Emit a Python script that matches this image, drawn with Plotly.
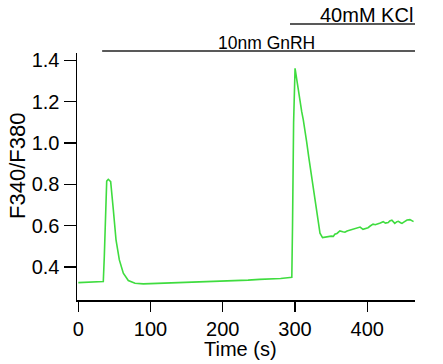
import plotly.graph_objects as go

time_s = [0, 8, 16, 24, 32, 34.6, 36, 38, 39.3, 41.5, 44.8, 48.5, 52.2, 56.8, 62.3, 69.2, 78.5,
          90, 100, 113, 130, 145, 159, 175, 190, 205, 220, 235, 251, 265, 280, 293, 295.5,
          296.5, 298, 300, 302, 304.6, 307, 309.2, 311.4, 313, 316, 319, 323, 326, 330, 334.5,
          338, 342, 346, 350, 353, 355, 358, 362, 366, 369, 372, 376, 380, 385, 390, 394,
          397, 401, 404, 408, 411, 415, 418, 422, 425, 429, 431, 434, 436, 438, 441, 443,
          446, 448, 451, 455, 459, 462, 464]
ratio = [0.324, 0.325, 0.326, 0.325, 0.327, 0.329, 0.45, 0.70, 0.815, 0.824, 0.813, 0.676, 0.531,
         0.434, 0.370, 0.334, 0.321,
         0.318, 0.319, 0.321, 0.322, 0.324, 0.326, 0.327, 0.329, 0.332, 0.334, 0.336, 0.340,
         0.341, 0.344, 0.349, 0.350,
         0.60, 1.10, 1.361, 1.31, 1.265, 1.20, 1.151, 1.111, 1.08, 1.006, 0.93, 0.829, 0.76,
         0.668, 0.563,
         0.542, 0.545, 0.547, 0.549, 0.548, 0.558, 0.562, 0.574, 0.570, 0.568, 0.574, 0.579,
         0.584, 0.590, 0.593, 0.582,
         0.586, 0.590, 0.598, 0.607, 0.604, 0.611, 0.613, 0.619, 0.612, 0.615, 0.622, 0.626,
         0.618, 0.611, 0.619, 0.621,
         0.614, 0.611, 0.618, 0.627, 0.629, 0.624, 0.619]

gnrh_label = "10nm GnRH"
gnrh_span = [33, 466]
kcl_label = "40mM KCl"
kcl_span = [293, 466]

x_ticks = [0, 100, 200, 300, 400]
y_ticks = [0.4, 0.6, 0.8, 1.0, 1.2, 1.4]
y_ticktext = ["0.4", "0.6", "0.8", "1.0", "1.2", "1.4"]

font_family = "Liberation Sans, Arial, sans-serif"

W, H = 443, 364
ML, MR, MT, MB = 77, 28, 53, 64
PW, PH = W - ML - MR, H - MT - MB


def px_to_paper_x(px):
    return (px - ML) / PW


def px_to_paper_y(py):
    return (H - MB - py) / PH


fig = go.Figure()
fig.add_trace(go.Scatter(x=time_s, y=ratio, mode="lines",
                         line=dict(color="#3fdc3f", width=1.6), showlegend=False))

# stimulus bars (above plot)
fig.add_shape(type="line", xref="x", yref="paper", x0=gnrh_span[0], x1=gnrh_span[1],
              y0=px_to_paper_y(51), y1=px_to_paper_y(51), line=dict(color="#222222", width=1.5))
fig.add_shape(type="line", xref="x", yref="paper", x0=kcl_span[0], x1=kcl_span[1],
              y0=px_to_paper_y(24), y1=px_to_paper_y(24), line=dict(color="#222222", width=1.5))
fig.add_annotation(x=px_to_paper_x(266), y=px_to_paper_y(43), xref="paper", yref="paper",
                   text=gnrh_label, showarrow=False, xanchor="center", yanchor="middle",
                   font=dict(size=17.5, color="black", family=font_family))
fig.add_annotation(x=px_to_paper_x(366), y=px_to_paper_y(14.5), xref="paper", yref="paper",
                   text=kcl_label, showarrow=False, xanchor="center", yanchor="middle",
                   borderpad=0, font=dict(size=20, color="black", family=font_family))
# axis titles
fig.add_annotation(x=px_to_paper_x(240), y=px_to_paper_y(349), xref="paper", yref="paper",
                   text="Time (s)", showarrow=False, xanchor="center", yanchor="middle",
                   font=dict(size=20, color="black", family=font_family))
fig.add_annotation(x=px_to_paper_x(17), y=px_to_paper_y(166), xref="paper", yref="paper",
                   text="F340/F380", showarrow=False, xanchor="center", yanchor="middle",
                   borderpad=0, textangle=-90, font=dict(size=22, color="black", family=font_family))

fig.update_layout(
    width=W, height=H,
    margin=dict(l=ML, r=MR, t=MT, b=MB, autoexpand=False),
    paper_bgcolor="white", plot_bgcolor="white",
    font=dict(family=font_family, color="black"),
    hovermode=False,
    xaxis=dict(range=[-1.8, 466], tickvals=x_ticks, ticks="outside", ticklen=10,
               tickwidth=1.2, tickcolor="black", showline=True, linecolor="black", linewidth=1.5,
               showgrid=False, zeroline=False, tickfont=dict(size=20), automargin=False),
    yaxis=dict(range=[0.240, 1.435], tickvals=y_ticks, ticktext=y_ticktext, ticks="outside",
               ticklen=12, tickwidth=1.2, tickcolor="black", showline=True, linecolor="black",
               linewidth=1.5, showgrid=False, zeroline=False, tickfont=dict(size=20),
               automargin=False),
)

fig.write_html("out.html", config={"displayModeBar": False, "staticPlot": True},
               post_script="document.body.style.margin='0';")
